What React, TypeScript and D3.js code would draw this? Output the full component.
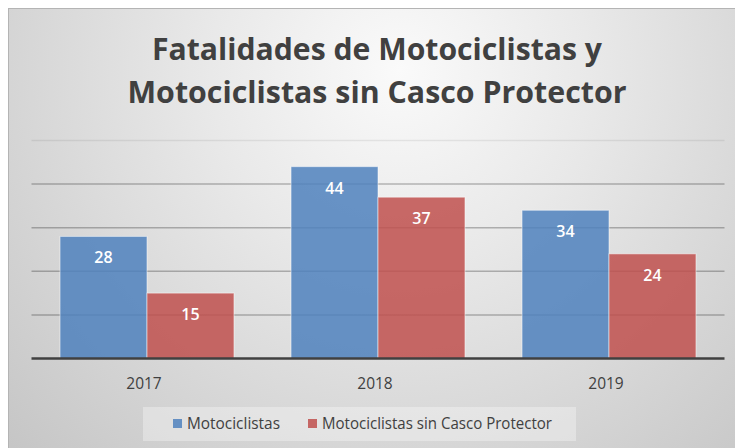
import React from "react";
import * as d3 from "d3";

// chart data
const years = ["2017", "2018", "2019"];
const seriesNames = ["Motociclistas", "Motociclistas sin Casco Protector"];
const motociclistas = [28, 44, 34];
const sinCasco = [15, 37, 24];
const yTicks = [10, 20, 30, 40, 50];
const titleLines = ["Fatalidades de Motociclistas y", "Motociclistas sin Casco Protector"];

const colors = ["#4f81bd", "#c0504d"];

const W = 735;
const H = 448;
const plot = { left: 31.5, right: 724.5, top: 140.5, bottom: 358.5 };

const App = () => {
  const x0 = d3.scaleBand().domain(years).range([plot.left, plot.right]);
  const x1 = d3
    .scaleBand()
    .domain(seriesNames)
    .range([0, x0.bandwidth()])
    .paddingInner(0)
    .paddingOuter(0.328);
  const y = d3.scaleLinear().domain([0, 50]).range([plot.bottom, plot.top]);

  const series = [motociclistas, sinCasco];
  const font = "'Open Sans', 'DejaVu Sans', sans-serif";

  // legend layout
  const legend = { x: 143, y: 407, w: 433, h: 34 };
  const legendItems = [
    { x: 173, name: seriesNames[0], color: colors[0], len: 93 },
    { x: 308, name: seriesNames[1], color: colors[1], len: 230 },
  ];

  return (
    <svg
      width={W}
      height={H}
      style={{ position: "absolute", left: 0, top: 0, background: "#fff" }}
      fontFamily={font}
    >
      <defs>
        <radialGradient id="bg" gradientUnits="userSpaceOnUse" cx={400} cy={70} r={540}>
          <stop offset="0" stopColor="#fafafa" />
          <stop offset="0.35" stopColor="#e9e9e9" />
          <stop offset="1" stopColor="#c6c6c6" />
        </radialGradient>
      </defs>
      <rect x={8.5} y={8.5} width={740} height={450} fill="url(#bg)" stroke="#b4b4b4" />

      {/* title */}
      {titleLines.map((t, i) => (
        <text
          key={t}
          x={377}
          y={59.5 + i * 43.5}
          textAnchor="middle"
          fontSize={30}
          fontWeight={700}
          fill="#404040"
          textLength={i === 0 ? 450 : 499}
          lengthAdjust="spacingAndGlyphs"
        >
          {t}
        </text>
      ))}

      {/* gridlines */}
      {yTicks.map((t) => (
        <line
          key={t}
          x1={plot.left}
          x2={plot.right}
          y1={y(t)}
          y2={y(t)}
          stroke="#000"
          strokeOpacity={t === 50 ? 0.07 : 0.26}
          strokeWidth={1.5}
        />
      ))}

      {/* bars */}
      {years.map((yr, i) => (
        <g key={yr} transform={`translate(${x0(yr)},0)`}>
          {series.map((vals, s) => (
            <g key={s}>
              <rect
                x={x1(seriesNames[s])}
                y={y(vals[i])}
                width={x1.bandwidth()}
                height={y(0) - y(vals[i])}
                fill={colors[s]}
                fillOpacity={0.85}
                stroke="#ffffff"
                strokeOpacity={0.5}
                strokeWidth={1}
              />
              <text
                x={(x1(seriesNames[s]) ?? 0) + x1.bandwidth() / 2}
                y={y(vals[i]) + 27}
                textAnchor="middle"
                fontSize={16}
                fontWeight={600}
                fill="#ffffff"
              >
                {vals[i]}
              </text>
            </g>
          ))}
        </g>
      ))}

      {/* baseline */}
      <line
        x1={plot.left}
        x2={plot.right}
        y1={y(0)}
        y2={y(0)}
        stroke="#404040"
        strokeWidth={2.5}
      />

      {/* x labels */}
      {years.map((yr) => (
        <text
          key={yr}
          x={(x0(yr) ?? 0) + x0.bandwidth() / 2 - 3}
          y={388.5}
          textAnchor="middle"
          fontSize={15.5}
          fill="#404040"
        >
          {yr}
        </text>
      ))}

      {/* legend */}
      <rect x={legend.x} y={legend.y} width={legend.w} height={legend.h} fill="#ffffff" fillOpacity={0.32} />
      {legendItems.map((it) => (
        <g key={it.name}>
          <rect x={it.x} y={419} width={9} height={9} fill={it.color} fillOpacity={0.85} />
          <text
            x={it.x + 14}
            y={429}
            fontSize={15.5}
            fill="#404040"
            textLength={it.len}
            lengthAdjust="spacingAndGlyphs"
          >
            {it.name}
          </text>
        </g>
      ))}
    </svg>
  );
};

export default App;
